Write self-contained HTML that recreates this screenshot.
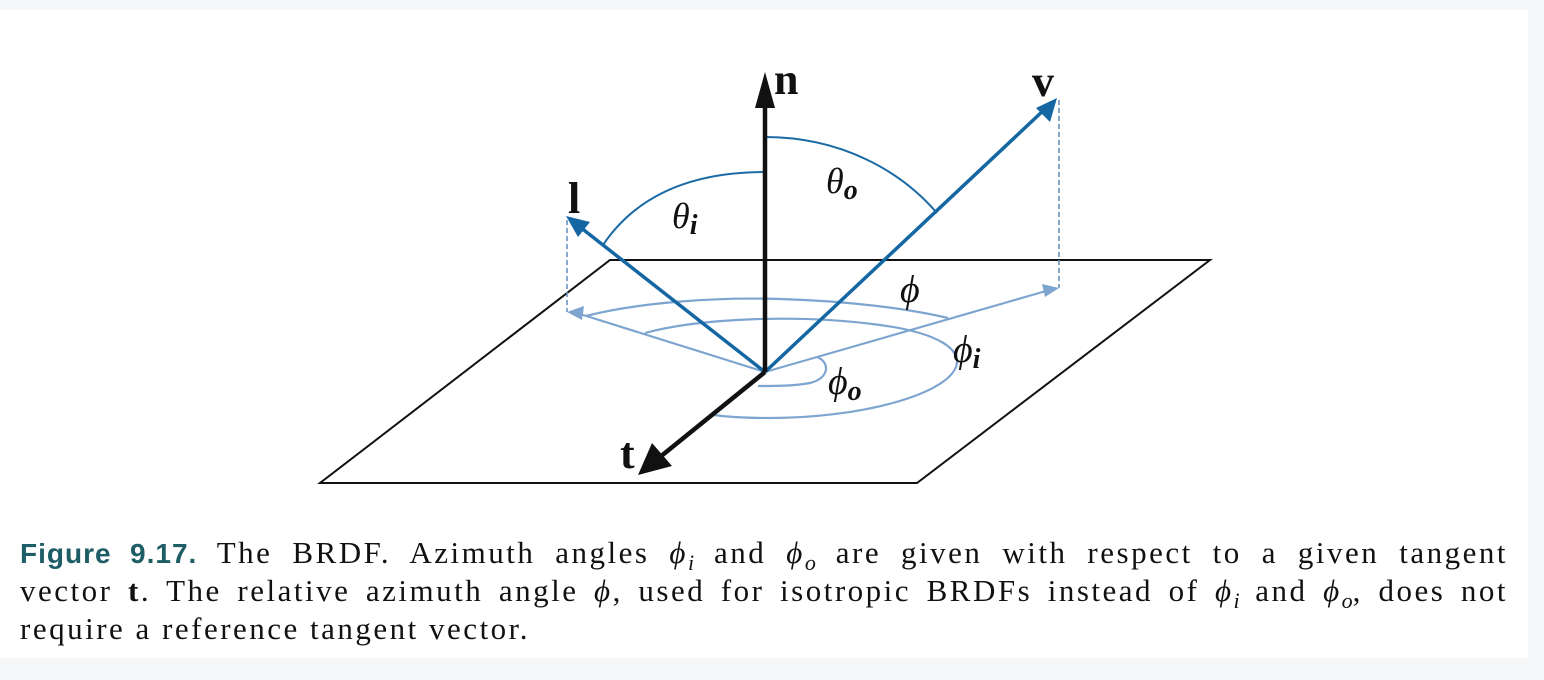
<!DOCTYPE html>
<html><head><meta charset="utf-8">
<style>
html,body{margin:0;padding:0;background:#f6f7f9;width:1544px;height:680px;overflow:hidden}
#panel{position:absolute;left:0;top:10px;width:1528px;height:648px;background:#fff}
svg{position:absolute;left:0;top:0}
.cap{position:absolute;left:20px;width:1488px;font-family:"Liberation Serif",serif;font-size:31px;letter-spacing:2.5px;color:#111;white-space:nowrap;line-height:30px}
.j{text-align:justify;text-align-last:justify;white-space:normal}
.fig{font-family:"Liberation Sans",sans-serif;font-weight:bold;color:#1e5c66;font-size:28px;letter-spacing:1px}
.cap sub{font-size:22px;letter-spacing:0}
.lbl{font-family:"Liberation Serif",serif;font-weight:bold;fill:#111}
.it{font-family:"Liberation Serif",serif;font-style:italic;fill:#111}
</style></head><body>
<div id="panel"></div>
<svg width="1544" height="680">
<polygon points="610,260 1210,260 917,483 320,483" fill="none" stroke="#111" stroke-width="2"/>
<line x1="567" y1="220" x2="567" y2="312" stroke="#6b93c4" stroke-width="1.6" stroke-dasharray="5,3"/>
<line x1="1059" y1="100" x2="1059" y2="288" stroke="#6b93c4" stroke-width="1.6" stroke-dasharray="5,3"/>
<g stroke="#7ea5d0" stroke-width="2.2" fill="none">
<line x1="765" y1="372" x2="580" y2="314"/>
<line x1="765" y1="372" x2="1046" y2="291"/>
<path d="M586,316 C640,302 720,297 780,299 C850,301 910,309 948,318"/>
<path d="M645,333 C700,318 800,314 880,325 C940,333 962,350 956,367 C945,395 860,418 770,418 C745,418 728,417 714,415"/>
<path d="M817,357 C830,362 830,378 810,383 C795,386 775,386 758,386"/>
</g>
<polygon fill="#7ea5d0" points="567,312 584,306 582,320"/>
<polygon fill="#7ea5d0" points="1059,288 1042,284 1045,297"/>
<g stroke="#1a6aa6" stroke-width="2" fill="none">
<path d="M765,172 C700,172 640,190 603,245"/>
<path d="M765,137 C840,137 900,170 937,213"/>
</g>
<line x1="765" y1="372" x2="580" y2="227" stroke="#1567a3" stroke-width="3.5"/>
<polygon fill="#1567a3" points="566,216 590,222 578,237"/>
<line x1="765" y1="372" x2="1045" y2="109" stroke="#1567a3" stroke-width="3.5"/>
<polygon fill="#1567a3" points="1057,98 1050,122 1036,108"/>
<line x1="765" y1="372" x2="765" y2="100" stroke="#111" stroke-width="4.5"/>
<polygon fill="#111" points="765,72 775,108 755,108"/>
<line x1="765" y1="372" x2="660" y2="457" stroke="#111" stroke-width="4.5"/>
<polygon fill="#111" points="638,475 652,443 672,466"/>
<text class="lbl" x="774" y="94" font-size="44">n</text>
<text class="lbl" x="1032" y="96" font-size="44">v</text>
<text class="lbl" x="568" y="213" font-size="44">l</text>
<text class="lbl" x="620" y="468" font-size="44">t</text>
<text class="it" x="672" y="228" font-size="36">θ<tspan font-size="28" font-weight="bold" dy="6">i</tspan></text>
<text class="it" x="826" y="193" font-size="36">θ<tspan font-size="28" font-weight="bold" dy="6">o</tspan></text>
<text class="it" x="900" y="302" font-size="38">ϕ</text>
<text class="it" x="953" y="362" font-size="38">ϕ<tspan font-size="28" font-weight="bold" dy="6">i</tspan></text>
<text class="it" x="828" y="394" font-size="38">ϕ<tspan font-size="28" font-weight="bold" dy="6">o</tspan></text>
</svg>
<div class="cap j" style="top:538px"><span class="fig">Figure 9.17.</span> The BRDF. Azimuth angles <i>ϕ<sub>i</sub></i> and <i>ϕ<sub>o</sub></i> are given with respect to a given tangent</div>
<div class="cap j" style="top:576px">vector <b>t</b>. The relative azimuth angle <i>ϕ</i>, used for isotropic BRDFs instead of <i>ϕ<sub>i</sub></i> and <i>ϕ<sub>o</sub></i>, does not</div>
<div class="cap" style="top:614px">require a reference tangent vector.</div>
</body></html>
